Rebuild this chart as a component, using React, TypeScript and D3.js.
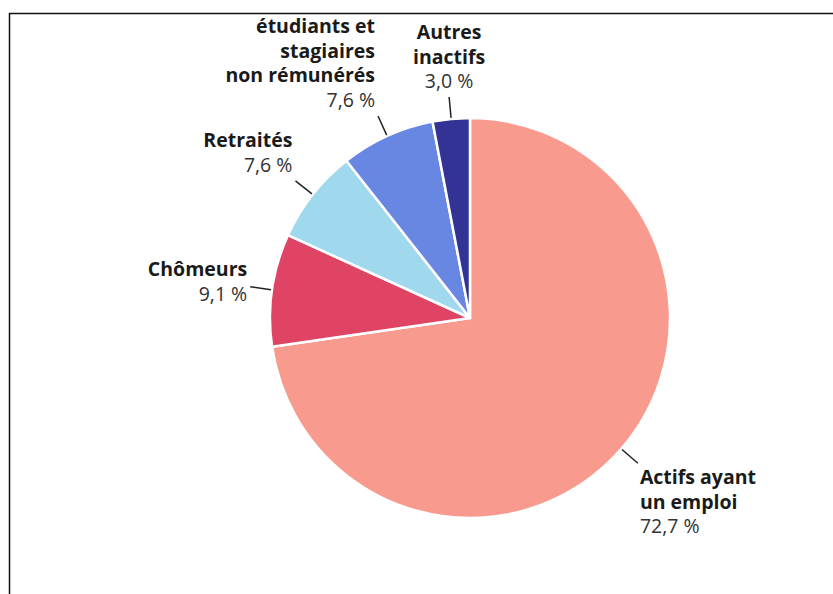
import { useEffect, useRef } from 'react';
import * as d3 from 'd3';

const categories = [
  'Actifs ayant un emploi',
  'Chômeurs',
  'Retraités',
  'étudiants et stagiaires non rémunérés',
  'Autres inactifs',
];
// label lines as shown on the chart
const labelLines = [
  ['Actifs ayant', 'un emploi'],
  ['Chômeurs'],
  ['Retraités'],
  ['étudiants et', 'stagiaires', 'non rémunérés'],
  ['Autres', 'inactifs'],
];
const values = [72.7, 9.1, 7.6, 7.6, 3.0];
const colors = ['#f99a8e', '#e04464', '#a0d8ee', '#6887e3', '#333396'];

function App() {
  const svgRef = useRef<SVGSVGElement>(null);

  useEffect(() => {
    const width = 833;
    const height = 594;
    const cx = 470;
    const cy = 318;
    const radius = 200;
    const lineHeight = 24.5;
    const fontSize = 19.5;

    d3.select(svgRef.current).selectAll('*').remove();

    const svg = d3
      .select(svgRef.current)
      .attr('width', width)
      .attr('height', height)
      .style('font-family', '"Open Sans", "Noto Sans", sans-serif');

    // frame (top + left border)
    svg
      .append('path')
      .attr('d', `M9.5,${height} V13.5 H${width}`)
      .attr('fill', 'none')
      .attr('stroke', '#111')
      .attr('stroke-width', 1.5);

    const data = categories.map((c, i) => ({
      name: c,
      lines: labelLines[i],
      value: values[i],
      color: colors[i],
    }));

    const pie = d3
      .pie<any>()
      .sort(null)
      .value((d) => d.value);
    const arcs = pie(data);

    const arc = d3.arc<any>().innerRadius(0).outerRadius(radius);

    const g = svg.append('g').attr('transform', `translate(${cx},${cy})`);

    g.selectAll('path.slice')
      .data(arcs)
      .enter()
      .append('path')
      .attr('class', 'slice')
      .attr('d', arc)
      .attr('fill', (d) => d.data.color)
      .attr('stroke', '#fff')
      .attr('stroke-width', 2.5)
      .attr('stroke-linejoin', 'round');

    const fmt = (v: number) => `${v.toFixed(1).replace('.', ',')} %`;

    arcs.forEach((a) => {
      const mid = (a.startAngle + a.endAngle) / 2;
      const sin = Math.sin(mid);
      const cos = Math.cos(mid);
      const r0 = radius + 1;
      const r1 = radius + 22;
      const x0 = r0 * sin;
      const y0 = -r0 * cos;
      const x1 = r1 * sin;
      const y1 = -r1 * cos;

      // leader line
      g.append('line')
        .attr('x1', x0)
        .attr('y1', y0)
        .attr('x2', x1)
        .attr('y2', y1)
        .attr('stroke', '#222')
        .attr('stroke-width', 1.5);

      const lines = [...a.data.lines, fmt(a.data.value)];
      const n = lines.length;
      const blockH = n * lineHeight;

      let anchor = 'middle';
      let tx = x1;
      if (sin > 0.3) {
        anchor = 'start';
        tx = x1 + 2;
      } else if (sin < -0.3) {
        anchor = 'end';
        tx = x1 - 3;
      }

      // baseline of first line
      let firstBaseline;
      if (cos > 0.3) {
        // label above: block bottom near line end
        firstBaseline = y1 - 9 - (n - 1) * lineHeight;
      } else if (cos < -0.3) {
        firstBaseline = y1 + 21;
      } else {
        firstBaseline = y1 - blockH / 2 + 14;
      }

      const text = g
        .append('text')
        .attr('text-anchor', anchor)
        .style('font-size', `${fontSize}px`);

      lines.forEach((l, i) => {
        const isValue = i === n - 1;
        text
          .append('tspan')
          .attr('x', tx)
          .attr('y', firstBaseline + i * lineHeight)
          .attr('font-weight', isValue ? 400 : 700)
          .attr('fill', isValue ? '#333' : '#1a1a1a')
          .text(l);
      });
    });
  }, []);

  return (
    <svg
      ref={svgRef}
      style={{ position: 'absolute', left: 0, top: 0, display: 'block' }}
    ></svg>
  );
}

export default App;
